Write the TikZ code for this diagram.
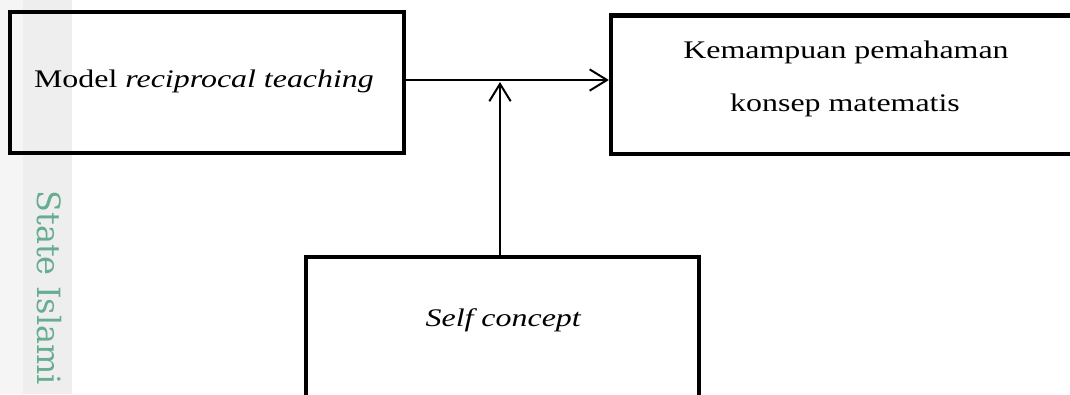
\documentclass[tikz,border=0pt]{standalone}
\usepackage{fontspec}
\setmainfont{Liberation Serif}
\newfontfamily\wmfont{DejaVu Serif}
\usetikzlibrary{arrows.meta}
\definecolor{wmteal}{RGB}{104,172,146}
\definecolor{wmgray}{RGB}{238,238,238}
\definecolor{wmlight}{RGB}{245,245,245}
\tikzset{
  x=0.75pt, y=-0.75pt,
  boxnode/.style={draw=black, line width=3.2pt, rectangle, inner sep=0pt},
  lbl/.style={anchor=base, inner sep=0pt, font=\fontsize{19}{23}\selectfont},
  conn/.style={draw=black, line width=1.5pt, -{Straight Barb[length=13pt,width=16pt,line width=1.5pt]}},
}
\newcommand{\wide}[1]{\scalebox{1.26}[1]{#1}}
\begin{document}
\begin{tikzpicture}
\useasboundingbox (0,0) rectangle (1070,394);
\clip (0,0) rectangle (1070,394);
\fill[white] (0,0) rectangle (1070,394);
\fill[wmlight] (0,0) rectangle (23,394);
\fill[wmgray] (23,0) rectangle (72,394);
\node[rotate=-90, anchor=north west, inner sep=0pt, text=wmteal, font=\wmfont\fontsize{24}{28}\selectfont] (wm) at (62,190) {State Islami};

\node[boxnode, minimum width=295.5pt, minimum height=105.75pt] (b1) at (207,82.5) {};
\node[boxnode, minimum width=354pt, minimum height=103.9pt] (b2) at (847,84.75) {};
\node[boxnode, minimum width=294.75pt, minimum height=105pt] (b3) at (502.5,327) {};

\node[lbl] (t1) at (204,87) {\wide{Model \textit{reciprocal teaching}}};
\node[lbl] (t2a) at (846,58) {\wide{Kemampuan pemahaman}};
\node[lbl] (t2b) at (845,111) {\wide{konsep matematis}};
\node[lbl] (t3) at (503.5,326) {\wide{\textit{Self concept}}};

\coordinate (j) at (500,80);
\coordinate (jt) at (500,82);
\draw[conn] (b1.east |- j) -- (b2.west |- j);
\draw[conn] (b3.north -| j) -- (jt);
\end{tikzpicture}
\end{document}
